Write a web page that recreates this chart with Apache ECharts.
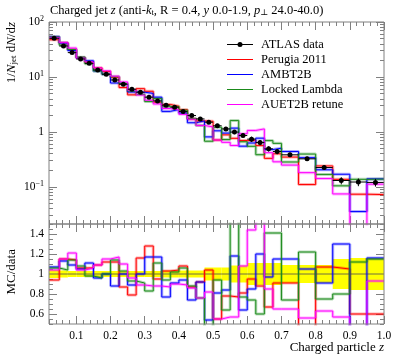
<!DOCTYPE html>
<html><head><meta charset="utf-8">
<script src="https://cdn.jsdelivr.net/npm/echarts@6/dist/echarts.min.js"></script>
<style>html,body{margin:0;padding:0;background:#fff}#c{width:397px;height:358px}</style>
</head><body><div id="c"></div>
<script>
// ---- data ----
const binEdges = [0.02,0.05,0.075,0.1,0.125,0.15,0.175,0.2,0.225,0.25,0.275,0.3,0.325,0.35,0.375,0.4,0.425,0.45,0.475,0.5,0.525,0.55,0.575,0.6,0.625,0.65,0.675,0.7,0.75,0.8,0.85,0.9,0.95,1.0];
const atlasData = [50.6,36.6,27.7,21.2,17.7,13.4,11.2,8.8,7.36,5.97,5.27,4.28,3.66,3.06,2.81,2.34,1.98,1.72,1.50,1.29,1.13,0.99,0.857,0.737,0.639,0.491,0.438,0.382,0.323,0.224,0.130,0.122,0.120];
const atlasRelErr = [0.04,0.035,0.03,0.03,0.03,0.03,0.03,0.03,0.03,0.03,0.03,0.03,0.03,0.035,0.035,0.035,0.035,0.035,0.065,0.065,0.065,0.085,0.085,0.11,0.11,0.11,0.11,0.09,0.09,0.09,0.15,0.16,0.16];
const perugiaRatio = [0.94,1.15,1.14,1.06,1.06,1.09,1.12,1.12,0.87,0.79,1.16,1.28,0.95,1.03,1.04,1.08,0.87,0.92,1.04,0.55,0.78,0.77,0.81,0.95,0.88,0.67,0.91,0.91,0.34,1.07,1.05,0.60,0.60];
const ambtRatio    = [1.07,1.13,1.09,1.05,1.11,0.96,1.00,0.88,1.00,0.89,1.00,1.17,1.17,0.77,0.91,0.94,0.74,0.92,0.54,0.81,0.84,1.18,0.64,0.85,1.20,0.97,1.15,1.15,1.05,0.91,1.30,0.29,1.16];
const lockedRatio  = [1.06,1.04,1.14,1.08,0.98,0.96,1.00,1.14,1.03,0.93,0.91,0.83,1.11,0.94,1.02,1.06,0.88,0.76,0.45,0.94,0.64,1.62,0.77,0.74,0.60,1.41,1.41,0.74,1.22,0.75,0.80,1.12,1.15];
const auetRatio    = [1.04,1.15,1.21,1.04,1.06,1.09,1.15,1.17,1.10,0.96,0.89,0.88,0.88,0.87,0.90,0.89,0.86,0.76,0.82,0.55,0.57,0.57,1.08,1.44,1.77,0.85,0.65,0.65,0.56,0.63,0.57,0.12,0.93];
const mcNames = ['Perugia 2011','AMBT2B','Locked Lambda','AUET2B retune'];
const mcColors = ['#ff0000','#0000ff','#1a8a1a','#ff00ff'];
const mcRatios = [perugiaRatio, ambtRatio, lockedRatio, auetRatio];
const xMajorTicks = [0.1,0.2,0.3,0.4,0.5,0.6,0.7,0.8,0.9,1.0];
const yMajorTicks = [0.1,1,10,100];
const yMinorTicks = [0.03,0.04,0.05,0.06,0.07,0.08,0.09,0.2,0.3,0.4,0.5,0.6,0.7,0.8,0.9,2,3,4,5,6,7,8,9,20,30,40,50,60,70,80,90];
const ratioMajorTicks = [0.6,0.8,1.0,1.2,1.4];

// ---- layout ----
const L = 49, W = 335, T1 = 22, H1 = 202, T2 = 224, H2 = 100;
const FONT = '"Liberation Serif", "DejaVu Serif", serif';
const frameColor = '#808080';

function stepData(vals) {
  const out = [];
  for (let i = 0; i < vals.length; i++) {
    out.push([binEdges[i], vals[i]]);
    out.push([binEdges[i+1], vals[i]]);
  }
  return out;
}

function xAx(grid, pos, major, labels) {
  const a = {
    gridIndex: grid, type: 'value', min: 0.02, max: 1.0, position: pos,
    axisLine: {show: false}, splitLine: {show: false},
    axisTick: {show: true, inside: true, length: major ? 8 : 4, lineStyle: {color: frameColor}},
    axisLabel: {show: false}
  };
  if (major) {
    a.axisTick.customValues = xMajorTicks;
    if (labels) {
      a.axisLabel = {show: true, customValues: xMajorTicks, fontFamily: FONT, fontSize: 11.5, color: '#000', margin: 6,
        formatter: v => v.toFixed(1)};
    }
  } else {
    a.interval = 0.02;
  }
  return a;
}
function yLog(pos, major, labels) {
  const a = {
    gridIndex: 0, type: 'log', logBase: 10, min: 0.021, max: 100, position: pos,
    axisLine: {show: false}, splitLine: {show: false},
    axisTick: {show: true, inside: true, length: major ? 8 : 4, lineStyle: {color: frameColor},
      customValues: major ? yMajorTicks : yMinorTicks},
    axisLabel: {show: false}
  };
  if (labels) {
    a.axisLabel = {show: true, customValues: yMajorTicks, fontFamily: FONT, fontSize: 11.5, color: '#000', margin: 5,
      formatter: v => {
        if (Math.abs(v - 1) < 1e-9) return '{b|1}';
        const e = Math.round(Math.log10(v));
        return '{b|10}{s|' + (e < 0 ? '\u2212' + (-e) : e) + '}';
      },
      rich: {b: {fontFamily: FONT, fontSize: 11.5, color: '#000'}, s: {fontFamily: FONT, fontSize: 8, color: '#000', verticalAlign: 'top', padding: [0,0,6,0]}}
    };
  }
  return a;
}
function yRatio(pos, major, labels) {
  const a = {
    gridIndex: 1, type: 'value', min: 0.5, max: 1.5, position: pos,
    axisLine: {show: false}, splitLine: {show: false},
    axisTick: {show: true, inside: true, length: major ? 8 : 4, lineStyle: {color: frameColor}},
    axisLabel: {show: false}
  };
  if (major) {
    a.axisTick.customValues = ratioMajorTicks;
    if (labels) a.axisLabel = {show: true, customValues: ratioMajorTicks, fontFamily: FONT, fontSize: 11.5, color: '#000', margin: 5,
      formatter: v => Math.abs(v - 1) < 1e-9 ? '1' : v.toFixed(1)};
  } else {
    a.interval = 0.05;
  }
  return a;
}

const xAxes = [
  xAx(0,'bottom',true,false), xAx(0,'bottom',false,false), xAx(0,'top',true,false), xAx(0,'top',false,false),
  xAx(1,'bottom',true,true), xAx(1,'bottom',false,false), xAx(1,'top',true,false), xAx(1,'top',false,false)
];
const yAxes = [
  yLog('left',true,true), yLog('left',false,false), yLog('right',true,false), yLog('right',false,false),
  yRatio('left',true,true), yRatio('left',false,false), yRatio('right',true,false), yRatio('right',false,false)
];

const series = [];
// ratio panel: yellow band of data uncertainty
series.push({
  type: 'custom', xAxisIndex: 4, yAxisIndex: 4, clip: true, silent: true, z: 1,
  data: atlasRelErr.map((e, i) => [binEdges[i], binEdges[i+1], 1 - e, 1 + e]),
  renderItem: (params, api) => {
    const p0 = api.coord([api.value(0), api.value(3)]);
    const p1 = api.coord([api.value(1), api.value(2)]);
    return {type: 'rect', shape: {x: p0[0], y: p0[1], width: p1[0] - p0[0], height: p1[1] - p0[1]},
      style: {fill: '#ffff00', stroke: null}};
  }
});
series.push({
  type: 'line', xAxisIndex: 4, yAxisIndex: 4, data: stepData(atlasData.map(() => 1)), symbol: 'none',
  lineStyle: {color: '#6e6e40', width: 1}, silent: true, z: 2
});

// MC histograms (upper and ratio)
mcRatios.forEach((r, m) => {
  const mcVals = r.map((x, i) => x * atlasData[i]);
  [[0, 0, mcVals], [4, 4, r]].forEach(([xi, yi, vals]) => {
    series.push({type: 'line', xAxisIndex: xi, yAxisIndex: yi, data: stepData(vals), symbol: 'none', silent: true,
      lineStyle: {color: mcColors[m], width: 3, opacity: 0.3}, z: 3});
    series.push({type: 'line', xAxisIndex: xi, yAxisIndex: yi, data: stepData(vals), symbol: 'none', silent: true,
      lineStyle: {color: mcColors[m], width: 1}, z: 4});
  });
});

// ATLAS data points with error bars
series.push({
  type: 'custom', xAxisIndex: 0, yAxisIndex: 0, clip: true, silent: true, z: 10,
  data: atlasData.map((v, i) => [binEdges[i], binEdges[i+1], v, v * (1 - atlasRelErr[i]), v * (1 + atlasRelErr[i])]),
  renderItem: (params, api) => {
    const lo = api.value(0), hi = api.value(1), v = api.value(2);
    const a = api.coord([lo, v]), b = api.coord([hi, v]);
    const c = api.coord([(lo + hi) / 2, v]);
    const eLo = api.coord([(lo + hi) / 2, api.value(3)]), eHi = api.coord([(lo + hi) / 2, api.value(4)]);
    return {type: 'group', children: [
      {type: 'line', shape: {x1: a[0], y1: a[1], x2: b[0], y2: b[1]}, style: {stroke: '#000', lineWidth: 1}},
      {type: 'line', shape: {x1: eLo[0], y1: eLo[1], x2: eHi[0], y2: eHi[1]}, style: {stroke: '#000', lineWidth: 1}},
      {type: 'circle', shape: {cx: c[0], cy: c[1], r: 2.5}, style: {fill: '#000'}}
    ]};
  }
});

const legendY0 = 44.5, legendDY = 15;
const graphics = [
  {type: 'rect', shape: {x: L, y: T1, width: W, height: H1}, style: {fill: 'none', stroke: frameColor, lineWidth: 1}, z: 20, silent: true},
  {type: 'rect', shape: {x: L, y: T2, width: W, height: H2}, style: {fill: 'none', stroke: frameColor, lineWidth: 1}, z: 20, silent: true},
  {type: 'text', x: 50, y: 11, z: 20, style: {
    text: 'Charged jet {i|z} (anti-{i|k}{sub|t}, R = 0.4, {i|y} 0.0-1.9, {i|p}{sub|\u22a5} 24.0-40.0)',
    font: '12.5px ' + FONT, fill: '#000', verticalAlign: 'middle',
    rich: {i: {fontStyle: 'italic', fontFamily: FONT, fontSize: 12.5}, sub: {fontFamily: FONT, fontSize: 8.5, verticalAlign: 'bottom', padding: [4,0,0,0]}}
  }},
  {type: 'text', x: 12, y: T1, rotation: Math.PI / 2, z: 20, style: {
    text: '1/{i|N}{sub|jet} d{i|N}/d{i|z}', font: '13px ' + FONT, fill: '#000', align: 'right', verticalAlign: 'middle',
    rich: {i: {fontStyle: 'italic', fontFamily: FONT, fontSize: 13}, sub: {fontFamily: FONT, fontSize: 9, verticalAlign: 'bottom', padding: [4,0,0,0]}}
  }},
  {type: 'text', x: 12, y: 249, rotation: Math.PI / 2, z: 20, style: {
    text: 'MC/data', font: '13px ' + FONT, fill: '#000', align: 'right', verticalAlign: 'middle'
  }},
  {type: 'text', x: 384, y: 348, z: 20, style: {
    text: 'Charged particle {i|z}', font: '13px ' + FONT, fill: '#000', align: 'right', verticalAlign: 'middle',
    rich: {i: {fontStyle: 'italic', fontFamily: FONT, fontSize: 13}}
  }}
];
const legendNames = ['ATLAS data'].concat(mcNames);
const legendColors = ['#000'].concat(mcColors);
legendNames.forEach((n, i) => {
  const y = legendY0 + legendDY * i;
  graphics.push({type: 'line', shape: {x1: 227, y1: y, x2: 253, y2: y}, style: {stroke: legendColors[i], lineWidth: 1}, z: 20});
  if (i === 0) graphics.push({type: 'circle', shape: {cx: 240, cy: y, r: 2.5}, style: {fill: '#000'}, z: 20});
  graphics.push({type: 'text', x: 261, y: y, z: 20, style: {text: n, font: '12.5px ' + FONT, fill: '#000', verticalAlign: 'middle'}});
});

const chart = echarts.init(document.getElementById('c'), null, {renderer: 'canvas'});
chart.setOption({
  animation: false,
  backgroundColor: '#fff',
  grid: [{left: L, top: T1, width: W, height: H1}, {left: L, top: T2, width: W, height: H2}],
  xAxis: xAxes, yAxis: yAxes, series: series, graphic: graphics
});
</script></body></html>
